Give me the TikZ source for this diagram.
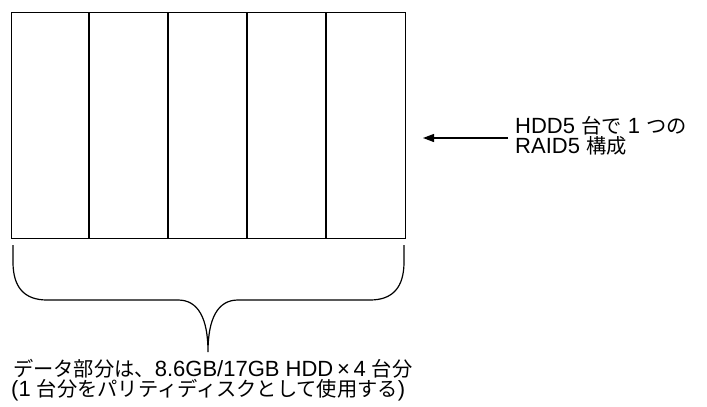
\documentclass[tikz,border=0pt]{standalone}
\usepackage{fontspec}
\setmainfont{Liberation Sans}
\newfontfamily\jp[Scale=0.92]{Noto Sans CJK JP}
\usetikzlibrary{arrows.meta}
\begin{document}
\begin{tikzpicture}[x=1pt,y=-1pt,
  txt/.style={inner sep=0pt,anchor=base west,font=\fontsize{22}{18}\selectfont},
  frame/.style={line width=1.3pt},
  brace/.style={line width=1.2pt},
  arr/.style={line width=1.2pt,-{Triangle[length=11pt,width=8pt]}}]
\useasboundingbox (0,0) rectangle (707,407);
% disks
\node[frame,draw,inner sep=0pt,minimum width=394pt,minimum height=226pt,anchor=north west] (box) at (11,12) {};
\foreach \xx/\n in {89/d1,168/d2,247/d3,326/d4}{
  \coordinate (\n t) at (\xx,12);
  \coordinate (\n b) at (\xx,238);
  \draw[frame] (\n t) -- (\n b);
}
% brace
\coordinate (bl) at (13,245);
\coordinate (br) at (404,245);
\coordinate (tip) at (208,352);
\draw[brace] (bl) -- (13,262) .. controls (13,287) and (24,300) .. (47,300)
  -- (178,300) .. controls (198,300) and (208,318) .. (tip)
  .. controls (208,318) and (218,300) .. (238,300)
  -- (370,300) .. controls (393,300) and (404,287) .. (404,262) -- (br);
% arrow and right label
\node[txt] (r1) at (515,133) {HDD5 {\jp 台で} 1 {\jp つの}};
\node[txt] (r2) at (515,153) {RAID5 {\jp 構成}};
\coordinate (astart) at (508,138);
\coordinate (atip) at (423,138);
\draw[arr] (astart) -- (atip);
% bottom label
\node[txt] (b1) at (13,376) {{\jp データ部分は、}8.6GB/17GB HDD\,×\,4 {\jp 台分}};
\node[txt] (b2) at (11,396) {(1 {\jp 台分をパリティディスクとして使用する})};
\end{tikzpicture}
\end{document}
